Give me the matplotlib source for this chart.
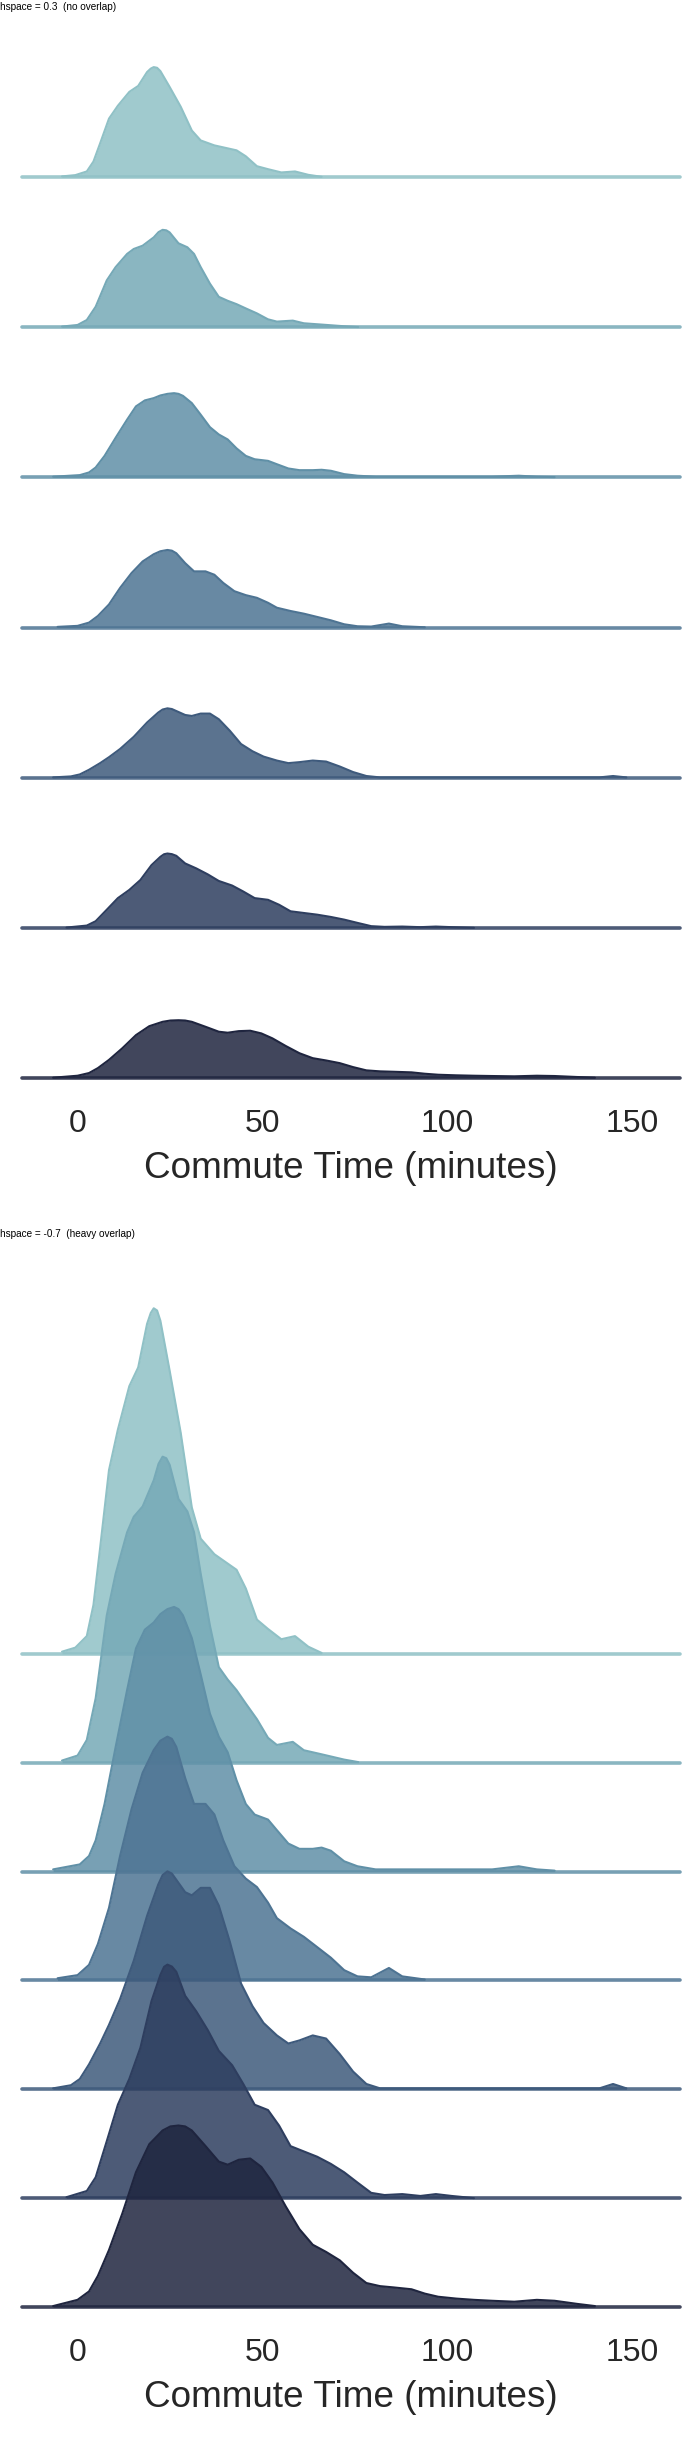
"""Ridgeline comparison: the same seven commute-time densities drawn with
no overlap (hspace=0.3) and with heavy overlap (hspace=-0.7)."""

import matplotlib

matplotlib.use("Agg")
import matplotlib.pyplot as plt
import seaborn as sns

# ---------------------------------------------------------------------------
# Data: KDE outlines (minutes, relative density).
# Top row first; the y scale is shared across rows.
# ---------------------------------------------------------------------------
G1_MIN = [-4.1, -0.5, 2.6, 4.4, 6.2, 8.6, 11.0, 14.1, 16.5, 18.9, 19.9, 20.7, 21.6, 22.5,
          25.0, 28.0, 31.0, 33.4, 37.1, 40.7, 43.1, 45.6, 48.6, 51.6, 55.2, 58.9, 62.5, 66.1]
G1_DENS = [0.7, 2.0, 5.7, 15.7, 34.0, 59.0, 72.0, 86.0, 92.0, 106.0, 109.5, 111.0, 110.3,
           107.0, 91.0, 71.0, 47.0, 37.0, 32.0, 29.0, 27.0, 21.0, 11.0, 8.0, 4.7, 5.7, 2.3, 0.3]

G2_MIN = [-4.1, 0.1, 2.6, 5.0, 8.0, 10.4, 13.5, 15.3, 17.7, 20.7, 22.0, 23.1, 24.1, 25.0,
          27.4, 29.8, 31.6, 33.4, 35.9, 38.3, 40.7, 43.1, 45.6, 48.6, 51.6, 54.0, 58.3,
          61.3, 66.1, 72.2, 76.0]
G2_DENS = [0.7, 2.3, 7.3, 20.7, 47.3, 60.7, 74.0, 79.0, 82.3, 90.7, 96.0, 98.3, 97.8, 95.7,
           84.7, 80.7, 74.0, 60.7, 44.0, 30.7, 26.7, 23.3, 19.0, 14.0, 8.0, 5.7, 6.7,
           4.0, 2.7, 1.0, 0.2]

G3_MIN = [-6.5, 0.7, 3.2, 5.0, 7.4, 10.4, 13.5, 15.9, 18.3, 20.7, 22.5, 24.4, 26.2, 27.4,
          28.6, 31.0, 33.4, 35.9, 38.3, 40.7, 43.1, 45.6, 48.0, 51.6, 54.0, 57.1, 60.1,
          63.7, 66.1, 68.6, 72.2, 75.8, 80.7, 112.2, 119.4, 124.3, 129.1]
G3_DENS = [0.7, 2.3, 5.0, 10.0, 21.7, 40.0, 58.3, 71.7, 77.7, 80.0, 82.7, 84.3, 85.0, 84.3,
           82.3, 75.0, 63.3, 50.7, 43.3, 38.3, 29.3, 21.7, 18.3, 16.7, 13.3, 9.0, 7.3,
           7.3, 7.7, 6.7, 3.3, 1.7, 0.7, 0.7, 1.7, 0.7, 0.3]

G4_MIN = [-5.3, 0.1, 3.2, 5.6, 8.6, 11.6, 14.7, 17.7, 20.7, 22.5, 24.4, 25.6, 26.8, 29.2,
          31.6, 34.7, 37.1, 39.5, 42.5, 45.6, 48.6, 51.6, 54.0, 57.7, 61.3, 64.9, 68.6,
          72.2, 75.8, 79.5, 84.3, 87.9, 94.0]
G4_DENS = [0.7, 1.7, 5.0, 11.7, 23.3, 40.0, 55.0, 66.7, 74.0, 77.0, 78.3, 77.6, 75.0, 65.0,
           56.7, 56.7, 53.3, 45.0, 36.7, 32.7, 30.0, 25.0, 20.0, 16.7, 14.0, 10.7, 7.3,
           3.3, 1.3, 1.0, 4.0, 1.3, 0.3]

G5_MIN = [-6.5, -1.7, 0.7, 3.2, 6.2, 8.6, 11.6, 15.3, 18.9, 21.9, 23.1, 24.4, 25.6, 26.8,
          29.2, 31.0, 33.4, 35.9, 38.3, 41.3, 44.3, 47.4, 50.4, 54.0, 57.1, 60.1, 63.7,
          67.3, 71.0, 74.6, 78.2, 81.9, 141.2, 144.9, 148.5]
G5_DENS = [0.3, 1.3, 3.3, 8.0, 14.7, 20.7, 29.0, 41.3, 55.7, 65.7, 68.8, 70.0, 69.3, 67.3,
           63.3, 62.3, 64.7, 64.7, 59.0, 47.3, 34.0, 26.7, 21.3, 17.3, 14.7, 15.7, 17.3,
           16.3, 11.3, 5.7, 1.7, 0.3, 0.3, 1.7, 0.3]

G6_MIN = [-2.9, 2.6, 5.0, 8.0, 11.0, 14.1, 17.1, 20.1, 22.5, 23.5, 24.4, 25.6, 26.8, 29.2,
          32.2, 35.3, 38.3, 41.9, 44.9, 48.0, 51.6, 54.6, 57.7, 61.3, 64.9, 68.6, 72.2,
          75.8, 79.5, 83.1, 87.9, 92.8, 97.0, 101.3, 107.3]
G6_DENS = [0.3, 2.3, 6.7, 18.3, 30.0, 38.3, 48.3, 63.3, 71.7, 74.3, 75.0, 74.4, 72.7, 65.0,
           60.0, 54.0, 47.3, 42.7, 36.7, 30.0, 28.3, 23.3, 16.7, 15.0, 13.3, 11.0, 8.3,
           5.0, 1.7, 1.0, 1.3, 0.7, 1.3, 0.7, 0.0]

G7_MIN = [-6.5, 0.1, 3.2, 5.6, 8.6, 12.2, 15.9, 19.5, 23.1, 25.2, 27.4, 29.2, 31.0, 34.7,
          38.3, 40.7, 43.7, 46.8, 49.8, 52.8, 56.4, 60.1, 63.7, 67.3, 71.0, 74.6, 78.2,
          81.9, 85.5, 90.4, 94.0, 97.6, 102.5, 107.3, 112.2, 118.2, 124.3, 129.1, 135.2, 140.0]
G7_DENS = [0.3, 2.3, 5.0, 10.0, 18.3, 30.0, 43.3, 52.3, 56.7, 58.0, 58.3, 58.0, 56.7, 51.7,
           46.7, 45.7, 47.3, 47.7, 45.0, 40.0, 32.3, 25.0, 20.0, 17.7, 15.0, 11.0, 7.7,
           6.7, 6.3, 5.7, 4.3, 3.3, 2.7, 2.3, 2.0, 1.7, 2.3, 2.0, 1.0, 0.3]

PANEL_HSPACE = [0.3, -0.7]
PANEL_TITLES = ["hspace = 0.3  (no overlap)", "hspace = -0.7  (heavy overlap)"]
XTICKS = [0, 50, 100, 150]
XLABEL = "Commute Time (minutes)"

CURVES = [
    (G1_MIN, G1_DENS),
    (G2_MIN, G2_DENS),
    (G3_MIN, G3_DENS),
    (G4_MIN, G4_DENS),
    (G5_MIN, G5_DENS),
    (G6_MIN, G6_DENS),
    (G7_MIN, G7_DENS),
]

# ---------------------------------------------------------------------------
# Style / layout
# ---------------------------------------------------------------------------
PALETTE = sns.cubehelix_palette(len(CURVES), rot=-0.25, light=0.7)
TEXT_COLOR = "#262626"
FONT = ["Liberation Sans", "DejaVu Sans"]
XLIM = (-15, 163)
FIG_W, FIG_H = 700, 2438

# grid extents (top, bottom) in pixels from the top of the image
PANEL_GRID_PX = [(61.6, 1078), (1291, 2307)]
PANEL_TITLE_PX = [2, 1229]

plt.rcParams["font.family"] = FONT


def _draw_panel(fig, grid_px, hspace, title, title_px) -> None:
    top, bottom = grid_px
    gs = fig.add_gridspec(
        len(CURVES),
        1,
        left=21.7 / FIG_W,
        right=680 / FIG_W,
        top=1 - top / FIG_H,
        bottom=1 - bottom / FIG_H,
        hspace=hspace,
    )
    ymax = 1.05 * max(max(d) for _, d in CURVES)
    axes = []
    for i, (mins, dens) in enumerate(CURVES):
        ax = fig.add_subplot(gs[i, 0])
        ax.patch.set_alpha(0)
        color = PALETTE[i]
        ax.fill_between(mins, dens, color=color, alpha=0.85, lw=0, clip_on=False)
        ax.plot(mins, dens, color=color, lw=1.5, clip_on=False,
                solid_joinstyle="round", solid_capstyle="round")
        ax.axhline(0, color=color, alpha=0.85, lw=2.6, solid_capstyle="round", clip_on=False)
        ax.set_xlim(*XLIM)
        ax.set_ylim(0, ymax)
        ax.set_yticks([])
        for spine in ax.spines.values():
            spine.set_visible(False)
        ax.set_xticks(XTICKS)
        ax.tick_params(axis="x", length=0, pad=22, labelsize=23, labelcolor=TEXT_COLOR)
        if i < len(CURVES) - 1:
            ax.tick_params(axis="x", labelbottom=False)
        axes.append(ax)

    axes[-1].set_xlabel(XLABEL, fontsize=26.6, color=TEXT_COLOR, labelpad=9)
    fig.text(0.0, 1 - title_px / FIG_H, title, fontsize=7.2, color="black",
             ha="left", va="top")


def main() -> None:
    fig = plt.figure(figsize=(FIG_W / 100, FIG_H / 100), dpi=100)
    for grid_px, hspace, title, title_px in zip(
        PANEL_GRID_PX, PANEL_HSPACE, PANEL_TITLES, PANEL_TITLE_PX, strict=True
    ):
        _draw_panel(fig, grid_px, hspace, title, title_px)
    fig.savefig("out.png", dpi=100, facecolor="white")
    plt.close(fig)


if __name__ == "__main__":
    main()
